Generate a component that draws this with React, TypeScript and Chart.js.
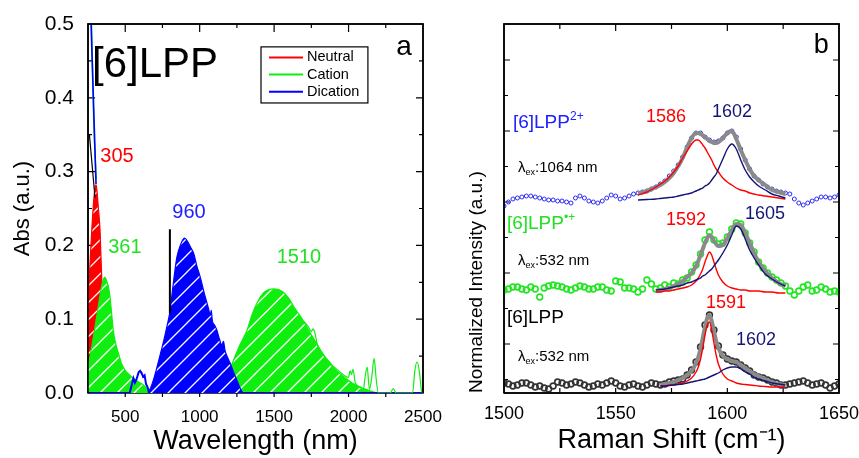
import React, { useEffect, useRef } from "react";
import { Chart, registerables } from "chart.js";
Chart.register(...registerables);

const FONT = "'Liberation Sans', Arial, Helvetica, sans-serif";

// ---------------- Panel a : absorption ----------------
const absXTickValues = [500, 1000, 1500, 2000, 2500];

const neutralWl = [250, 262, 275, 288, 297, 305, 312, 320, 331, 342, 350, 360, 375, 400, 420];
const neutralAbs = [0.13, 0.17, 0.22, 0.26, 0.278, 0.282, 0.27, 0.25, 0.22, 0.157, 0.1, 0.05, 0.015, 0.002, 0];

const cationWl = [250, 263, 280, 295, 308, 325, 340, 352, 364, 375, 386, 398, 410, 420, 435, 454, 475, 499, 525, 555, 590, 622, 660, 700,
  1100, 1150, 1200, 1228, 1270, 1318, 1350, 1385, 1430, 1500, 1560, 1600, 1632, 1690, 1744, 1800, 1856, 1910, 1967, 2030, 2100, 2160, 2200, 2500];
const cationAbs = [0.036, 0.049, 0.068, 0.087, 0.103, 0.125, 0.143, 0.153, 0.157, 0.152, 0.145, 0.13, 0.105, 0.085, 0.068, 0.054, 0.04, 0.031, 0.025, 0.02, 0.015, 0.011, 0.004, 0,
  0, 0.012, 0.03, 0.045, 0.065, 0.085, 0.105, 0.122, 0.136, 0.141, 0.137, 0.128, 0.117, 0.1, 0.081, 0.062, 0.045, 0.032, 0.022, 0.013, 0.006, 0.002, 0, 0];

const cationNoiseWl = [1700, 1730, 1750, 1760, 1772, 1790, 1850, 1950, 2000, 2010, 2020, 2030, 2045, 2080, 2100, 2110, 2125, 2140, 2155, 2172, 2185, 2200, 2280, 2300, 2320, 2430, 2445, 2460, 2475, 2490, 2500];
const cationNoiseAbs = [0.097, 0.09, 0.083, 0.087, 0.083, 0.066, 0.047, 0.027, 0.021, 0.03, 0.025, 0.032, 0.014, 0.008, 0.005, 0.02, 0.035, 0.005, 0.02, 0.047, 0.02, 0, 0, 0.006, 0, 0, 0.03, 0.042, 0.03, 0.003, 0];

const cationUvWl = [270, 288, 305];
const cationUvAbs = [0.54, 0.37, 0.29];

const dicationWl = [655, 680, 700, 720, 740, 760, 780, 800, 815, 830, 847, 870, 898, 920, 940, 960, 980, 1004, 1030, 1060, 1071, 1078, 1085, 1100, 1116, 1130, 1150, 1160, 1170, 1190, 1206, 1230, 1251, 1270, 1290];
const dicationAbs = [0, 0.012, 0.025, 0.04, 0.056, 0.072, 0.09, 0.11, 0.135, 0.16, 0.184, 0.2, 0.21, 0.205, 0.197, 0.189, 0.173, 0.157, 0.136, 0.114, 0.105, 0.112, 0.098, 0.092, 0.085, 0.075, 0.065, 0.07, 0.058, 0.047, 0.04, 0.027, 0.017, 0.007, 0];

const dicationBaseWl = [250, 530, 545, 555, 565, 575, 590, 600, 610, 620, 630, 640, 650, 660, 1290, 2500];
const dicationBaseAbs = [0, 0, 0.012, 0.02, 0.014, 0.018, 0.028, 0.03, 0.027, 0.022, 0.024, 0.012, 0.008, 0, 0, 0];

const dicationUvWl = [266, 286, 304];
const dicationUvAbs = [0.53, 0.4, 0.283];

const blackUvWl = [259, 297];
const blackUvAbs = [0.351, 0.265];

const detectorWl = [800, 800];
const detectorAbs = [0.222, 0.108];

const legendLabels = ["Neutral", "Cation", "Dication"];

// ---------------- Panel b : Raman ----------------
const ramanXTickValues = [1500, 1550, 1600, 1650];

const ramanX = [
  1500, 1502, 1504, 1506, 1508, 1510, 1512, 1514, 1516, 1518,
  1520, 1522, 1524, 1526, 1528, 1530, 1532, 1534, 1536, 1538,
  1540, 1542, 1544, 1546, 1548, 1550, 1552, 1554, 1556, 1558,
  1560, 1562, 1564, 1566, 1568, 1570, 1572, 1574, 1576, 1578,
  1580, 1582, 1584, 1586, 1588, 1590, 1592, 1594, 1596, 1598,
  1600, 1602, 1604, 1606, 1608, 1610, 1612, 1614, 1616, 1618,
  1620, 1622, 1624, 1626, 1628, 1630, 1632, 1634, 1636, 1638,
  1640, 1642, 1644, 1646, 1648, 1650];

const dicationRaman = [
  1.87, 1.91, 1.94, 1.95, 1.96, 1.97, 1.97, 1.96, 1.95, 1.94,
  1.93, 1.93, 1.92, 1.92, 1.91, 1.90, 1.95, 1.97, 1.95, 1.92,
  1.91, 1.90, 1.92, 1.95, 1.98, 1.97, 1.94, 1.95, 1.97, 1.99,
  2.00, 2.01, 2.02, 2.04, 2.06, 2.09, 2.12, 2.17, 2.22, 2.28,
  2.36, 2.46, 2.55, 2.60, 2.60, 2.56, 2.53, 2.51, 2.52, 2.55,
  2.60, 2.62, 2.56, 2.44, 2.33, 2.24, 2.17, 2.13, 2.09, 2.06,
  2.04, 2.02, 2.01, 2.00, 1.99, 1.94, 1.90, 1.88, 1.90, 1.92,
  1.94, 1.96, 1.96, 1.95, 1.96, 1.98];

const cationRaman = [
  1.03, 1.04, 1.06, 1.06, 1.04, 1.03, 1.06, 1.04, 0.96, 1.05,
  1.07, 1.08, 1.07, 1.06, 1.04, 1.03, 1.05, 1.07, 1.06, 1.04,
  1.04, 1.06, 1.06, 1.03, 1.02, 1.12, 1.11, 1.05, 1.05, 1.04,
  1.01, 1.04, 1.13, 1.09, 1.04, 1.05, 1.08, 1.06, 1.10, 1.09,
  1.13, 1.15, 1.21, 1.28, 1.39, 1.53, 1.61, 1.53, 1.49, 1.50,
  1.56, 1.64, 1.70, 1.69, 1.60, 1.50, 1.41, 1.31, 1.25, 1.20,
  1.16, 1.13, 1.10, 1.07, 1.02, 0.98, 1.02, 1.06, 1.08, 1.02,
  1.03, 1.06, 1.04, 1.01, 1.02, 1.01];

const neutralRaman = [
  0.10, 0.09, 0.07, 0.08, 0.10, 0.10, 0.08, 0.06, 0.07, 0.05,
  0.04, 0.07, 0.11, 0.10, 0.08, 0.09, 0.11, 0.10, 0.08, 0.06,
  0.07, 0.09, 0.08, 0.10, 0.12, 0.10, 0.07, 0.06, 0.08, 0.09,
  0.07, 0.06, 0.08, 0.10, 0.09, 0.08, 0.09, 0.11, 0.12, 0.13,
  0.14, 0.18, 0.23, 0.31, 0.46, 0.68, 0.78, 0.63, 0.47, 0.38,
  0.34, 0.32, 0.31, 0.28, 0.25, 0.22, 0.18, 0.16, 0.15, 0.13,
  0.11, 0.10, 0.08, 0.08, 0.09, 0.10, 0.11, 0.12, 0.10, 0.08,
  0.09, 0.10, 0.08, 0.05, 0.07, 0.09];

const fitX = [1560, 1564, 1568,
  1570, 1572, 1574, 1576, 1578, 1580, 1582, 1584, 1586,
  1587, 1588, 1589, 1590, 1591, 1592, 1593, 1594, 1595, 1596,
  1598, 1600, 1602, 1604, 1606, 1608, 1610, 1612, 1614,
  1617, 1620, 1623, 1626];

const dicationFitSum = [2.00, 2.02, 2.06,
  2.08, 2.11, 2.15, 2.20, 2.27, 2.35, 2.46, 2.55, 2.60,
  2.60, 2.59, 2.575, 2.56, 2.54, 2.52, 2.51, 2.50, 2.50, 2.51,
  2.55, 2.60, 2.62, 2.54, 2.43, 2.33, 2.24, 2.17, 2.13,
  2.08, 2.03, 2.01, 1.99];
const dicationFit1586 = [1.98, 2.01, 2.06,
  2.09, 2.12, 2.16, 2.21, 2.27, 2.35, 2.42, 2.49, 2.53,
  2.53, 2.51, 2.48, 2.45, 2.41, 2.37, 2.33, 2.28, 2.24, 2.21,
  2.15, 2.11, 2.08, 2.05, 2.03, 2.02, 2.00, 1.99, 1.98,
  1.97, 1.96, 1.95, 1.94];
const dicationFit1602 = [1.93, 1.935, 1.94,
  1.945, 1.95, 1.955, 1.96, 1.97, 1.98, 1.99, 2.00, 2.02,
  2.03, 2.04, 2.05, 2.07, 2.08, 2.10, 2.13, 2.16, 2.19, 2.24,
  2.34, 2.44, 2.49, 2.44, 2.33, 2.23, 2.16, 2.11, 2.07,
  2.03, 1.99, 1.97, 1.95];

const cationFitSum = [null, null, 1.02,
  1.03, 1.04, 1.05, 1.07, 1.09, 1.12, 1.16, 1.20, 1.27,
  1.32, 1.38, 1.44, 1.50, 1.55, 1.58, 1.56, 1.52, 1.49, 1.47,
  1.48, 1.55, 1.63, 1.69, 1.68, 1.60, 1.50, 1.40, 1.31,
  1.22, 1.15, 1.10, 1.07];
const cationFit1592 = [null, null, 1.01,
  1.01, 1.02, 1.02, 1.03, 1.04, 1.05, 1.06, 1.08, 1.12,
  1.15, 1.19, 1.24, 1.31, 1.37, 1.41, 1.38, 1.31, 1.24, 1.18,
  1.11, 1.07, 1.05, 1.04, 1.03, 1.03, 1.02, 1.02, 1.02,
  1.01, 1.01, 1.00, 1.00];
const cationFit1605 = [null, null, 1.03,
  1.035, 1.04, 1.05, 1.06, 1.07, 1.08, 1.10, 1.11, 1.13,
  1.14, 1.15, 1.17, 1.18, 1.20, 1.22, 1.24, 1.27, 1.30, 1.33,
  1.40, 1.48, 1.58, 1.67, 1.64, 1.54, 1.43, 1.35, 1.28,
  1.19, 1.14, 1.10, 1.07];

const neutralFitSum = [null, null, null,
  0.08, 0.09, 0.10, 0.11, 0.13, 0.15, 0.18, 0.22, 0.30,
  0.36, 0.44, 0.55, 0.66, 0.75, 0.78, 0.72, 0.62, 0.52, 0.45,
  0.37, 0.34, 0.32, 0.31, 0.28, 0.25, 0.22, 0.19, 0.17,
  0.14, 0.11, 0.09, 0.08];
const neutralFit1591 = [null, null, null,
  0.07, 0.07, 0.08, 0.08, 0.09, 0.10, 0.12, 0.15, 0.21,
  0.26, 0.34, 0.45, 0.58, 0.68, 0.71, 0.63, 0.50, 0.38, 0.29,
  0.19, 0.14, 0.12, 0.10, 0.09, 0.085, 0.08, 0.075, 0.07,
  0.065, 0.06, 0.06, 0.06];
const neutralFit1602 = [null, null, null,
  0.07, 0.07, 0.075, 0.08, 0.085, 0.09, 0.10, 0.11, 0.12,
  0.125, 0.13, 0.135, 0.14, 0.15, 0.16, 0.17, 0.18, 0.19, 0.20,
  0.23, 0.25, 0.26, 0.26, 0.24, 0.21, 0.19, 0.16, 0.14,
  0.12, 0.10, 0.09, 0.08];

// ---------------- helpers ----------------
const RED = "#ff0000";
const GREEN = "#10ee10";
const BLUE = "#0000ff";
const NAVY = "#141478";
const TXT_BLUE = "#2020ff";
const TXT_GREEN = "#22e022";
const GRAY = "#8a8a8a";

function pts(xs: number[], ys: (number | null)[]) {
  return xs.map((x, i) => ({ x, y: ys[i] })).filter((p) => p.y !== null);
}

function hatch(color: string) {
  const s = 17;
  const c = document.createElement("canvas");
  c.width = s;
  c.height = s;
  const g = c.getContext("2d")!;
  g.fillStyle = color;
  g.fillRect(0, 0, s, s);
  g.strokeStyle = "#ffffff";
  g.lineWidth = 1.3;
  g.beginPath();
  g.moveTo(-2, s + 2);
  g.lineTo(s + 2, -2);
  g.moveTo(-2, 2);
  g.lineTo(2, -2);
  g.moveTo(s - 2, s + 2);
  g.lineTo(s + 2, s - 2);
  g.stroke();
  return g.createPattern(c, "repeat")!;
}

type Part = { t: string; size: number; dy?: number };
type Label = { x: number; y: number; parts: Part[]; color: string; align: "left" | "center" };

function drawParts(ctx: CanvasRenderingContext2D, lab: Label, px: number, py: number) {
  let total = 0;
  for (const p of lab.parts) {
    ctx.font = `${p.size}px ${FONT}`;
    total += ctx.measureText(p.t).width;
  }
  let cx = lab.align === "center" ? px - total / 2 : px;
  ctx.textAlign = "left";
  ctx.textBaseline = "middle";
  ctx.fillStyle = lab.color;
  for (const p of lab.parts) {
    ctx.font = `${p.size}px ${FONT}`;
    ctx.fillText(p.t, cx, py + (p.dy || 0));
    cx += ctx.measureText(p.t).width;
  }
}

function makeDecor(cfg: any) {
  return {
    id: "decor_" + cfg.name,
    beforeDatasetsDraw(chart: any) {
      const { ctx, chartArea: a, scales } = chart;
      const xs = scales.x;
      const ys = scales.y;
      ctx.save();
      ctx.strokeStyle = "#000";
      ctx.lineWidth = 1.5;
      ctx.strokeRect(a.left, a.top, a.right - a.left, a.bottom - a.top);
      ctx.lineWidth = 1.2;
      ctx.beginPath();
      const xt = (vals: number[], top: number, bottom: number) => {
        for (const v of vals) {
          const p = xs.getPixelForValue(v);
          ctx.moveTo(p, a.top);
          ctx.lineTo(p, a.top + top);
          ctx.moveTo(p, a.bottom);
          ctx.lineTo(p, a.bottom - bottom);
        }
      };
      const yt = (vals: number[], len: number) => {
        for (const v of vals) {
          const p = ys.getPixelForValue(v);
          ctx.moveTo(a.left, p);
          ctx.lineTo(a.left + len, p);
          ctx.moveTo(a.right, p);
          ctx.lineTo(a.right - len, p);
        }
      };
      xt(cfg.xMajor, cfg.xTopLen[0], cfg.xBottomLen[0]);
      xt(cfg.xMinor, cfg.xTopLen[1], cfg.xBottomLen[1]);
      yt(cfg.yMajor, cfg.yLen[0]);
      yt(cfg.yMinor, cfg.yLen[1]);
      ctx.stroke();
      ctx.restore();
    },
    afterDatasetsDraw(chart: any) {
      const { ctx, chartArea: a, scales } = chart;
      const xs = scales.x;
      const ys = scales.y;
      ctx.save();
      ctx.strokeStyle = "#000";
      ctx.lineWidth = 1.5;
      ctx.beginPath();
      ctx.moveTo(a.left, a.bottom);
      ctx.lineTo(a.left, a.top);
      ctx.lineTo(a.right, a.top);
      ctx.lineTo(a.right, a.bottom);
      if (cfg.bottomOnTop) ctx.lineTo(a.left, a.bottom);
      ctx.stroke();

      if (cfg.legend) {
        const L = cfg.legend;
        const x0 = xs.getPixelForValue(L.x0);
        const x1 = xs.getPixelForValue(L.x1);
        const y0 = ys.getPixelForValue(L.y0);
        const y1 = ys.getPixelForValue(L.y1);
        ctx.fillStyle = "#fff";
        ctx.fillRect(x0, y0, x1 - x0, y1 - y0);
        ctx.strokeStyle = "#000";
        ctx.lineWidth = 1.2;
        ctx.strokeRect(x0, y0, x1 - x0, y1 - y0);
        ctx.font = `${L.size}px ${FONT}`;
        ctx.textAlign = "left";
        ctx.textBaseline = "middle";
        L.items.forEach((it: any, i: number) => {
          const ry = y0 + L.firstRow + i * L.rowGap;
          ctx.strokeStyle = it.color;
          ctx.lineWidth = 2;
          ctx.beginPath();
          ctx.moveTo(x0 + L.lineStart, ry);
          ctx.lineTo(x0 + L.lineEnd, ry);
          ctx.stroke();
          ctx.fillStyle = "#000";
          ctx.fillText(it.label, x0 + L.textStart, ry);
        });
      }
      for (const lab of cfg.labels as Label[]) {
        drawParts(ctx, lab, xs.getPixelForValue(lab.x), ys.getPixelForValue(lab.y));
      }
      ctx.restore();
    },
  };
}

function lineDs(label: string, data: any[], color: string, width: number, extra: any = {}) {
  return {
    label,
    data,
    borderColor: color,
    backgroundColor: color,
    borderWidth: width,
    pointRadius: 0,
    fill: false,
    cubicInterpolationMode: "monotone",
    ...extra,
  };
}

function buildAbsConfig(): any {
  const labels: Label[] = [
    { x: 700, y: 0.4438, parts: [{ t: "[6]LPP", size: 42 }], color: "#000", align: "center" },
    { x: 2372, y: 0.469, parts: [{ t: "a", size: 28 }], color: "#000", align: "center" },
    { x: 445, y: 0.321, parts: [{ t: "305", size: 20 }], color: RED, align: "center" },
    { x: 498, y: 0.1965, parts: [{ t: "361", size: 20 }], color: TXT_GREEN, align: "center" },
    { x: 928, y: 0.244, parts: [{ t: "960", size: 20 }], color: TXT_BLUE, align: "center" },
    { x: 1667, y: 0.183, parts: [{ t: "1510", size: 20 }], color: TXT_GREEN, align: "center" },
  ];
  const decor = makeDecor({
    name: "abs",
    xMajor: [500, 1000, 1500, 2000],
    xMinor: [750, 1250, 1750, 2250],
    xTopLen: [8, 4],
    xBottomLen: [-4, -4],
    yMajor: [0.1, 0.2, 0.3, 0.4],
    yMinor: [0.05, 0.15, 0.25, 0.35, 0.45],
    yLen: [7, 4],
    bottomOnTop: false,
    labels,
    legend: {
      x0: 1412, x1: 2130, y0: 0.469, y1: 0.393,
      size: 14.5, firstRow: 10.5, rowGap: 17.2, lineStart: 8, lineEnd: 42, textStart: 46,
      items: [
        { label: legendLabels[0], color: RED },
        { label: legendLabels[1], color: GREEN },
        { label: legendLabels[2], color: BLUE },
      ],
    },
  });
  return {
    type: "line",
    data: {
      datasets: [
        lineDs("detector", pts(detectorWl, detectorAbs), "#000", 2, { cubicInterpolationMode: "default", tension: 0 }),
        lineDs("uv-black", pts(blackUvWl, blackUvAbs), "#000", 1.2, { cubicInterpolationMode: "default", tension: 0 }),
        lineDs("uv-dication", pts(dicationUvWl, dicationUvAbs), BLUE, 1.6),
        lineDs("uv-cation", pts(cationUvWl, cationUvAbs), GREEN, 1.4),
        lineDs("cation-noise", pts(cationNoiseWl, cationNoiseAbs), GREEN, 1.2),
        lineDs("Dication", pts(dicationWl, dicationAbs), BLUE, 1.2, { fill: "origin", backgroundColor: hatch(BLUE) }),
        lineDs("dication-base", pts(dicationBaseWl, dicationBaseAbs), BLUE, 2, { cubicInterpolationMode: "default", tension: 0 }),
        lineDs("Cation", pts(cationWl, cationAbs), GREEN, 1.2, { fill: "origin", backgroundColor: hatch(GREEN) }),
        lineDs("Neutral", pts(neutralWl, neutralAbs), RED, 1.2, { fill: "origin", backgroundColor: hatch(RED) }),
      ],
    },
    options: {
      responsive: false,
      animation: false,
      devicePixelRatio: 1,
      layout: { padding: { left: 0, top: 24, right: 37, bottom: 0 } },
      plugins: { legend: { display: false }, tooltip: { enabled: false } },
      scales: {
        x: {
          type: "linear",
          min: 250,
          max: 2500,
          grid: { display: false },
          border: { display: false },
          ticks: {
            font: { family: FONT, size: 17 },
            color: "#000",
            padding: 6,
            maxRotation: 0,
            autoSkip: false,
            callback: (v: any) => String(v),
          },
          afterBuildTicks: (s: any) => {
            s.ticks = absXTickValues.map((value) => ({ value }));
          },
          afterFit: (s: any) => {
            s.height = 65;
            s.paddingLeft = 0;
            s.paddingRight = 0;
          },
          title: {
            display: true,
            text: "Wavelength (nm)",
            font: { family: FONT, size: 27 },
            color: "#000",
            padding: { top: 0, bottom: 0 },
          },
        },
        y: {
          type: "linear",
          min: 0,
          max: 0.5,
          grid: { display: false },
          border: { display: false },
          ticks: {
            stepSize: 0.1,
            font: { family: FONT, size: 21 },
            color: "#000",
            padding: 6,
            callback: (v: any) => Number(v).toFixed(1),
          },
          afterFit: (s: any) => {
            s.width = 88;
            s.paddingTop = 0;
            s.paddingBottom = 0;
          },
          title: {
            display: true,
            text: "Abs (a.u.)",
            font: { family: FONT, size: 22 },
            color: "#000",
            padding: { top: 10, bottom: 0 },
          },
        },
      },
    },
    plugins: [decor],
  };
}

function dotDs(label: string, ys: number[], color: string, r: number, bw: number) {
  return {
    label,
    data: pts(ramanX, ys),
    showLine: false,
    pointStyle: "circle",
    pointRadius: r,
    pointBorderWidth: bw,
    pointBorderColor: color,
    pointBackgroundColor: "rgba(0,0,0,0)",
    borderColor: color,
    backgroundColor: "rgba(0,0,0,0)",
  };
}

function buildRamanConfig(): any {
  const lam = (n: string, x: number, y: number): Label => ({
    x, y, color: "#000", align: "left",
    parts: [{ t: "λ", size: 15 }, { t: "ex", size: 9, dy: 5 }, { t: n, size: 15 }],
  });
  const labels: Label[] = [
    { x: 1504, y: 2.7, color: TXT_BLUE, align: "left", parts: [{ t: "[6]LPP", size: 19 }, { t: "2+", size: 12, dy: -6 }] },
    lam(":1064 nm", 1506.3, 2.25),
    { x: 1572.5, y: 2.76, color: RED, align: "center", parts: [{ t: "1586", size: 18 }] },
    { x: 1602.1, y: 2.81, color: NAVY, align: "center", parts: [{ t: "1602", size: 18 }] },
    { x: 1501.3, y: 1.69, color: TXT_GREEN, align: "left", parts: [{ t: "[6]LPP", size: 19 }, { t: "•+", size: 12, dy: -6 }] },
    lam(":532 nm", 1506.3, 1.32),
    { x: 1581.5, y: 1.73, color: RED, align: "center", parts: [{ t: "1592", size: 18 }] },
    { x: 1616.9, y: 1.79, color: NAVY, align: "center", parts: [{ t: "1605", size: 18 }] },
    { x: 1501.3, y: 0.75, color: "#000", align: "left", parts: [{ t: "[6]LPP", size: 19 }] },
    lam(":532 nm", 1506.3, 0.36),
    { x: 1599.4, y: 0.9, color: RED, align: "center", parts: [{ t: "1591", size: 18 }] },
    { x: 1612.8, y: 0.53, color: NAVY, align: "center", parts: [{ t: "1602", size: 18 }] },
    { x: 1642, y: 3.47, color: "#000", align: "center", parts: [{ t: "b", size: 27 }] },
  ];
  const decor = makeDecor({
    name: "raman",
    xMajor: [1550, 1600],
    xMinor: [1525, 1575, 1625],
    xTopLen: [7, 5],
    xBottomLen: [5, 5],
    yMajor: [3.33, 2.62, 1.91, 1.2, 0.49],
    yMinor: [2.975, 2.265, 1.555, 0.845, 0.135],
    yLen: [6, 4],
    bottomOnTop: true,
    labels,
  });
  return {
    type: "line",
    data: {
      datasets: [
        lineDs("fit 1602 (2+)", pts(fitX, dicationFit1602), NAVY, 1.4),
        lineDs("fit 1586 (2+)", pts(fitX, dicationFit1586), RED, 1.4),
        lineDs("sum (2+)", pts(fitX, dicationFitSum), GRAY, 4),
        lineDs("fit 1605 (+)", pts(fitX, cationFit1605), NAVY, 1.4),
        lineDs("fit 1592 (+)", pts(fitX, cationFit1592), RED, 1.4),
        lineDs("sum (+)", pts(fitX, cationFitSum), GRAY, 4),
        lineDs("fit 1602 (0)", pts(fitX, neutralFit1602), NAVY, 1.4),
        lineDs("fit 1591 (0)", pts(fitX, neutralFit1591), RED, 1.4),
        lineDs("sum (0)", pts(fitX, neutralFitSum), GRAY, 4),
        dotDs("[6]LPP2+", dicationRaman, "#2a2af0", 2, 1),
        dotDs("[6]LPP+", cationRaman, "#22e622", 2.9, 1.6),
        dotDs("[6]LPP", neutralRaman, "#333333", 2.9, 1.6),
      ],
    },
    options: {
      responsive: false,
      animation: false,
      devicePixelRatio: 1,
      layout: { padding: { left: 0, top: 24, right: 20, bottom: 0 } },
      plugins: { legend: { display: false }, tooltip: { enabled: false } },
      scales: {
        x: {
          type: "linear",
          min: 1500,
          max: 1650,
          grid: { display: false },
          border: { display: false },
          ticks: {
            font: { family: FONT, size: 18 },
            color: "#000",
            padding: 2,
            maxRotation: 0,
            autoSkip: false,
            callback: (v: any) => String(v),
          },
          afterBuildTicks: (s: any) => {
            s.ticks = ramanXTickValues.map((value) => ({ value }));
          },
          afterFit: (s: any) => {
            s.height = 65;
            s.paddingLeft = 0;
            s.paddingRight = 0;
          },
          title: {
            display: true,
            text: "Raman Shift (cm⁻¹)",
            font: { family: FONT, size: 27 },
            color: "#000",
            padding: { top: 0, bottom: 1 },
          },
        },
        y: {
          type: "linear",
          min: 0,
          max: 3.69,
          grid: { display: false },
          border: { display: false },
          ticks: { display: false },
          afterFit: (s: any) => {
            s.width = 74;
            s.paddingTop = 0;
            s.paddingBottom = 0;
          },
          title: {
            display: true,
            align: "start",
            text: "Normalized Intensity (a.u.)",
            font: { family: FONT, size: 19 },
            color: "#000",
            padding: { top: 35, bottom: 0 },
          },
        },
      },
    },
    plugins: [decor],
  };
}

export default function App() {
  const leftRef = useRef<HTMLCanvasElement>(null);
  const rightRef = useRef<HTMLCanvasElement>(null);
  useEffect(() => {
    const a = new Chart(leftRef.current!, buildAbsConfig());
    const b = new Chart(rightRef.current!, buildRamanConfig());
    return () => {
      a.destroy();
      b.destroy();
    };
  }, []);
  return (
    <div style={{ position: "absolute", left: 0, top: 0, width: 859, height: 458, background: "#fff", overflow: "hidden" }}>
      <canvas ref={leftRef} width={460} height={458} style={{ position: "absolute", left: 0, top: 0 }} />
      <canvas ref={rightRef} width={429} height={458} style={{ position: "absolute", left: 430, top: 0 }} />
    </div>
  );
}
